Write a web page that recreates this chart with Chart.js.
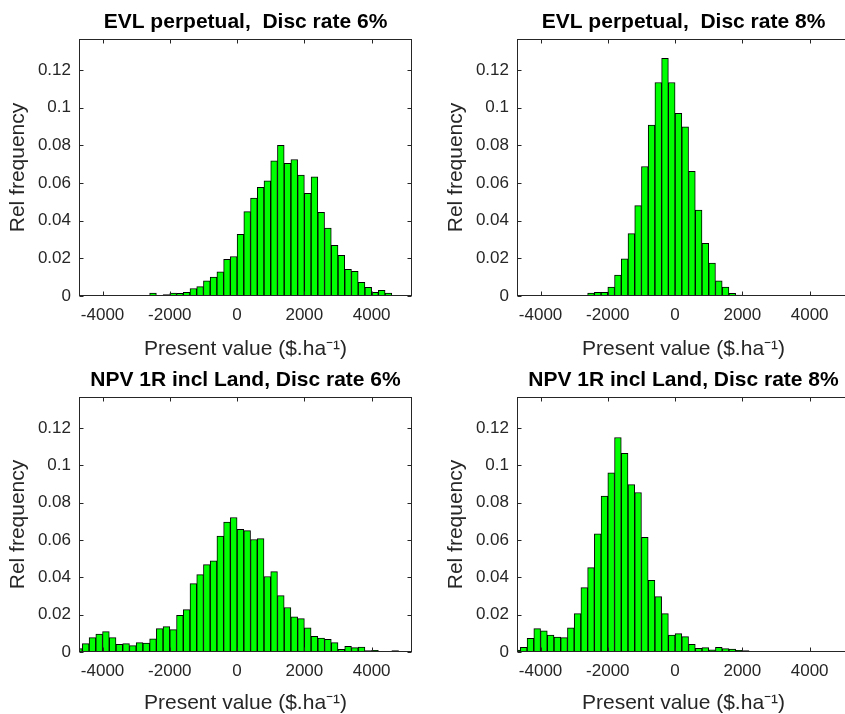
<!DOCTYPE html>
<html>
<head>
<meta charset="utf-8">
<script src="https://cdn.jsdelivr.net/npm/chart.js@4.4.1/dist/chart.umd.min.js"></script>
<style>
  html, body { margin: 0; padding: 0; background: #fff; overflow: hidden; }
  body { width: 845px; height: 714px; position: relative; }
  .panel { position: absolute; }
</style>
</head>
<body>
<div class="panel" style="left:0px;top:0px;width:430px;height:362px"><canvas id="c1"></canvas></div>
<div class="panel" style="left:438px;top:0px;width:430px;height:362px"><canvas id="c2"></canvas></div>
<div class="panel" style="left:0px;top:358px;width:430px;height:358px"><canvas id="c3"></canvas></div>
<div class="panel" style="left:438px;top:358px;width:430px;height:358px"><canvas id="c4"></canvas></div>
<script>
// bin centres (bins 200 wide)
const binsEVL6 = [-3300, -3100, -2500, -2300, -2100, -1900, -1700, -1500, -1300, -1100, -900, -700, -500, -300, -100,
  100, 300, 500, 700, 900, 1100, 1300, 1500, 1700, 1900, 2100, 2300, 2500, 2700, 2900,
  3100, 3300, 3500, 3700, 3900, 4100, 4300, 4500];
const freqEVL6 = [0.0003, 0.0003, 0.0016, 0.0002, 0.0007, 0.0016, 0.0014, 0.002, 0.004, 0.005, 0.008, 0.010, 0.0128, 0.0195, 0.021,
  0.0327, 0.0448, 0.052, 0.0577, 0.0612, 0.0718, 0.080, 0.0704, 0.0725, 0.0642, 0.0545, 0.0633, 0.0444, 0.0361, 0.0269,
  0.0216, 0.0142, 0.0131, 0.0073, 0.0046, 0.0019, 0.003, 0.0016];

const binsEVL8 = [-2900, -2700, -2500, -2300, -2100, -1900, -1700, -1500, -1300, -1100, -900, -700, -500, -300, -100,
  100, 300, 500, 700, 900, 1100, 1300, 1500, 1700, 1900, 2100];
const freqEVL8 = [0.0004, 0.0002, 0.0016, 0.002, 0.002, 0.0048, 0.0111, 0.0198, 0.0331, 0.048, 0.0688, 0.0908, 0.1134, 0.1262, 0.1134,
  0.097, 0.0899, 0.0662, 0.0457, 0.028, 0.0175, 0.0081, 0.0048, 0.0014, 0.0005, 0.0004];

const binsNPV6 = [-4700, -4500, -4300, -4100, -3900, -3700, -3500, -3300, -3100, -2900, -2700, -2500, -2300, -2100, -1900,
  -1700, -1500, -1300, -1100, -900, -700, -500, -300, -100, 100, 300, 500, 700, 900, 1100,
  1300, 1500, 1700, 1900, 2100, 2300, 2500, 2700, 2900, 3100, 3300, 3500, 3700, 3900, 4100,
  4300, 4500, 4700];
const freqNPV6 = [0.0018, 0.0045, 0.0077, 0.0096, 0.0109, 0.0077, 0.0041, 0.0045, 0.0034, 0.005, 0.0048, 0.0071, 0.0125, 0.0136, 0.012,
  0.0196, 0.0227, 0.0366, 0.0414, 0.0468, 0.0488, 0.062, 0.0695, 0.072, 0.0657, 0.065, 0.0602, 0.0607, 0.0404, 0.043,
  0.0302, 0.0238, 0.0188, 0.0179, 0.013, 0.0084, 0.0075, 0.0068, 0.005, 0.0014, 0.003, 0.0023, 0.0027, 0.0007, 0.0009,
  0.0004, 0.0004, 0.0007];

const binsNPV8 = [-4700, -4500, -4300, -4100, -3900, -3700, -3500, -3300, -3100, -2900, -2700, -2500, -2300, -2100, -1900,
  -1700, -1500, -1300, -1100, -900, -700, -500, -300, -100, 100, 300, 500, 700, 900, 1100,
  1300, 1500, 1700, 1900, 2100, 2300];
const freqNPV8 = [0.001, 0.0025, 0.0073, 0.0125, 0.0113, 0.0091, 0.008, 0.0077, 0.0129, 0.0205, 0.0345, 0.0452, 0.0632, 0.0834, 0.0959,
  0.1148, 0.1064, 0.0896, 0.0854, 0.0614, 0.0384, 0.0296, 0.0205, 0.0091, 0.0098, 0.0082, 0.0041, 0.002, 0.0023, 0.0011,
  0.0025, 0.0018, 0.0016, 0.0009, 0.0007, 0.0004];

const xTicks = [-4000, -2000, 0, 2000, 4000];
const yTicks = [0, 0.02, 0.04, 0.06, 0.08, 0.1, 0.12];
const xMin = -4700, xMax = 5200, yMax = 0.1365;

const axisColor = '#262626';

// MATLAB-like box with inward ticks on all four sides
const boxPlugin = {
  id: 'box',
  afterDraw(chart) {
    const { ctx, chartArea: a, scales } = chart;
    const L = Math.round(a.left) + 0.5, R = Math.round(a.right) - 0.5;
    const T = Math.round(a.top) + 0.5, B = Math.round(a.bottom) - 0.5;
    ctx.save();
    ctx.strokeStyle = axisColor;
    ctx.lineWidth = 1;
    ctx.strokeRect(L, T, R - L, B - T);
    ctx.beginPath();
    xTicks.forEach(v => {
      const px = Math.round(scales.x.getPixelForValue(v)) + 0.5;
      ctx.moveTo(px, B); ctx.lineTo(px, B - 4);
      ctx.moveTo(px, T); ctx.lineTo(px, T + 4);
    });
    yTicks.forEach(v => {
      const py = Math.round(scales.y.getPixelForValue(v)) + 0.5;
      ctx.moveTo(L, py); ctx.lineTo(L + 4, py);
      ctx.moveTo(R, py); ctx.lineTo(R - 4, py);
    });
    ctx.stroke();
    ctx.restore();
  }
};

function makeHist(id, title, bins, freq, xTitleHeight) {
  const ctx = document.getElementById(id).getContext('2d');
  return new Chart(ctx, {
    type: 'bar',
    data: {
      datasets: [{
        data: bins.map((b, i) => ({ x: b, y: freq[i] })),
        backgroundColor: '#00ff00',
        borderColor: '#000000',
        borderWidth: 1,
        barPercentage: 1,
        categoryPercentage: 1
      }]
    },
    options: {
      responsive: true,
      maintainAspectRatio: false,
      animation: false,
      layout: { padding: { left: 0, right: 18, top: 0, bottom: 0 } },
      plugins: {
        legend: { display: false },
        tooltip: { enabled: false },
        title: {
          display: true,
          text: title,
          fullSize: false,
          color: '#000',
          font: { family: 'Liberation Sans, Arial, sans-serif', size: 21, weight: 'bold', lineHeight: 1.2 },
          padding: { top: 10, bottom: 3.8 }
        }
      },
      scales: {
        x: {
          type: 'linear',
          min: xMin,
          max: xMax,
          offset: false,
          grid: { display: false, drawTicks: false },
          border: { display: false },
          afterBuildTicks: s => { s.ticks = xTicks.map(v => ({ value: v })); },
          afterFit: s => { s.height = xTitleHeight; },
          ticks: {
            color: axisColor,
            padding: 9,
            maxRotation: 0,
            font: { family: 'Liberation Sans, Arial, sans-serif', size: 17 },
            callback: v => String(v)
          },
          title: {
            display: true,
            text: 'Present value ($.ha⁻¹)',
            color: axisColor,
            padding: { top: 0, bottom: 0 },
            font: { family: 'Liberation Sans, Arial, sans-serif', size: 21, lineHeight: 1.2 }
          }
        },
        y: {
          min: 0,
          max: yMax,
          grid: { display: false, drawTicks: false },
          border: { display: false },
          afterBuildTicks: s => { s.ticks = yTicks.map(v => ({ value: v })); },
          afterFit: s => { s.width = 79; },
          ticks: {
            color: axisColor,
            padding: 8,
            font: { family: 'Liberation Sans, Arial, sans-serif', size: 17 },
            callback: v => String(v)
          },
          title: {
            display: true,
            text: 'Rel frequency',
            color: axisColor,
            padding: { top: 6, bottom: 0 },
            font: { family: 'Liberation Sans, Arial, sans-serif', size: 21, lineHeight: 1.2 }
          }
        }
      }
    },
    plugins: [boxPlugin]
  });
}

makeHist('c1', 'EVL perpetual,  Disc rate 6%', binsEVL6, freqEVL6, 66);
makeHist('c2', 'EVL perpetual,  Disc rate 8%', binsEVL8, freqEVL8, 66);
makeHist('c3', 'NPV 1R incl Land, Disc rate 6%', binsNPV6, freqNPV6, 64);
makeHist('c4', 'NPV 1R incl Land, Disc rate 8%', binsNPV8, freqNPV8, 64);
</script>
</body>
</html>
